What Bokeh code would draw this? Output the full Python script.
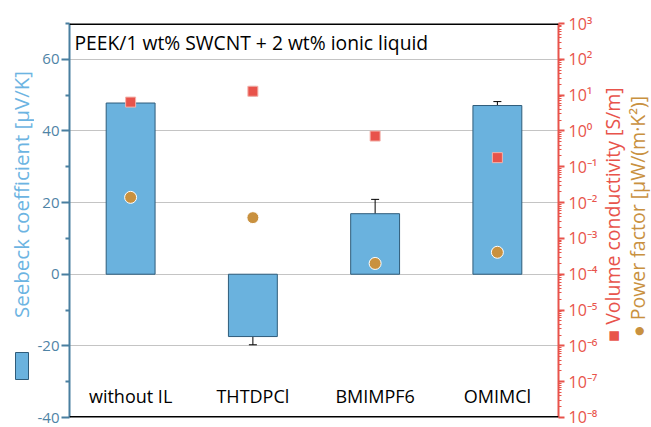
import math
from bokeh.plotting import figure
from bokeh.layouts import row
from bokeh.models import (Range1d, FactorRange, LogScale, LogAxis, FixedTicker,
                          ColumnDataSource, Whisker, TeeHead, Label, BoxAnnotation, Span)
from bokeh.embed import file_html
from bokeh.resources import INLINE
from bokeh.core.properties import value

# ---------------- data ----------------
categories = ["without IL", "THTDPCl", "BMIMPF6", "OMIMCl"]
seebeck = [47.8, -17.4, 16.9, 47.1]
seebeck_err = [0.0, 2.3, 4.0, 1.1]
conductivity = [6.4, 12.8, 0.72, 0.18]
conductivity_low = [6.4, 9.5, 0.54, 0.115]
conductivity_high = [6.4, 17.5, 0.96, 0.25]
power_factor = [0.014, 0.0038, 0.00020, 0.00041]
power_factor_low = [0.014, 0.0028, 0.000148, 0.00030]
power_factor_high = [0.014, 0.0051, 0.00027, 0.00041]
left_ticks = [-40, -20, 0, 20, 40, 60]
left_tick_labels = ["-40", "-20", "0", "20", "40", "60"]
left_minor_ticks = [-30, -10, 10, 30, 50, 70]
right_exponents = list(range(-8, 4))
right_tick_labels = ["10⁻⁸", "10⁻⁷", "10⁻⁶", "10⁻⁵", "10⁻⁴", "10⁻³",
                     "10⁻²", "10⁻¹", "10⁰", "10¹", "10²", "10³"]
title_text = "PEEK/1 wt% SWCNT + 2 wt% ionic liquid"
left_title = "Seebeck coefficient [µV/K]"
right_title_1 = "■ Volume conductivity [S/m]"
right_title_2 = "● Power factor [µW/(m·K²)]"

FONT = "Open Sans"
BLUE_AXIS = "#497fa0"
BLUE_LABEL = "#6cb4e2"
BAR_FILL = "#6ab2de"
BAR_LINE = "#2f5c7a"
RED = "#e8534b"
TAN = "#c9913f"

H = 427
LEFT_W, RIGHT_W = 34, 51
MAIN_W = 651 - LEFT_W - RIGHT_W


def side_figure(w):
    f = figure(width=w, height=H, x_range=Range1d(0, w), y_range=Range1d(0, H),
               x_axis_location=None, y_axis_location=None,
               output_backend="svg", toolbar_location=None,
               min_border=0, min_border_left=0, min_border_right=0,
               min_border_top=0, min_border_bottom=0)
    f.outline_line_color = None
    f.xgrid.visible = False
    f.ygrid.visible = False
    f.border_fill_color = "white"
    return f


# ---------------- main figure ----------------
p = figure(width=MAIN_W, height=H, x_range=FactorRange(*categories),
           y_range=Range1d(-40, 70), x_axis_location=None,
           output_backend="svg", toolbar_location=None,
           min_border_left=68 - LEFT_W, min_border_right=600 - 558,
           min_border_top=23, min_border_bottom=10)
p.extra_y_ranges = {"log": Range1d(1e-8, 1e3)}
p.extra_y_scales = {"log": LogScale()}
p.outline_line_color = None
p.border_fill_color = "white"

# left axis
ya = p.yaxis[0]
ya.ticker = FixedTicker(ticks=left_ticks, minor_ticks=left_minor_ticks)
ya.major_label_overrides = {t: lab for t, lab in zip(left_ticks, left_tick_labels)}
ya.axis_line_color = BLUE_AXIS
ya.axis_line_width = 2
ya.major_tick_line_color = BLUE_AXIS
ya.major_tick_line_width = 2
ya.minor_tick_line_color = BLUE_AXIS
ya.minor_tick_line_width = 2
ya.major_tick_out = 8
ya.major_tick_in = 0
ya.minor_tick_out = 4
ya.minor_tick_in = 0
ya.major_label_text_color = "#4f84a6"
ya.major_label_text_font = FONT
ya.major_label_text_font_size = "15px"
ya.major_label_standoff = 2

p.ygrid.ticker = FixedTicker(ticks=left_ticks)
p.ygrid.grid_line_color = "#c4c4c4"
p.ygrid.grid_line_width = 1
p.xgrid.grid_line_color = None

# right log axis
ra = LogAxis(y_range_name="log",
             ticker=FixedTicker(ticks=[10.0 ** e for e in right_exponents],
                                minor_ticks=[m * 10.0 ** e for e in right_exponents[:-1] for m in range(2, 10)]),
             major_label_overrides={10.0 ** e: lab for e, lab in zip(right_exponents, right_tick_labels)})
ra.axis_line_color = RED
ra.axis_line_width = 2
ra.major_tick_line_color = RED
ra.major_tick_line_width = 2
ra.minor_tick_line_color = RED
ra.minor_tick_line_width = 1
ra.major_tick_out = 6
ra.major_tick_in = 0
ra.minor_tick_out = 3
ra.minor_tick_in = 0
ra.major_label_text_color = RED
ra.major_label_text_font = FONT
ra.major_label_text_font_size = "16px"
ra.major_label_standoff = 4
p.add_layout(ra, "right")

# frame top / bottom lines
p.add_layout(Span(location=70, dimension="width", line_color="black", line_width=3))
p.add_layout(Span(location=-40, dimension="width", line_color="black", line_width=3))

# bars
bar_src = ColumnDataSource(dict(cat=categories, s=seebeck))
p.vbar(x="cat", top="s", bottom=0, width=0.4, source=bar_src,
       fill_color=BAR_FILL, line_color=BAR_LINE, line_width=1)

# markers
mk_src = ColumnDataSource(dict(cat=categories, cond=conductivity, pf=power_factor))
p.scatter(x="cat", y="cond", source=mk_src, y_range_name="log", marker="square",
          size=10, fill_color=RED, line_color="#f4b3ac", line_width=1)
p.scatter(x="cat", y="pf", source=mk_src, y_range_name="log", marker="circle",
          size=12, fill_color=TAN, line_color="white", line_width=1)

# error bars
ei = [i for i in range(len(categories)) if seebeck_err[i] > 0]
eb_src = ColumnDataSource(dict(cat=[categories[i] for i in ei],
                               up=[seebeck[i] + seebeck_err[i] for i in ei],
                               lo=[seebeck[i] - seebeck_err[i] for i in ei]))
p.add_layout(Whisker(base="cat", upper="up", lower="lo", source=eb_src,
                     line_color="black", line_width=1,
                     upper_head=TeeHead(size=8, line_color="black", line_width=1),
                     lower_head=TeeHead(size=8, line_color="black", line_width=1)))

ci = [i for i in range(len(categories)) if conductivity_high[i] != conductivity_low[i]]
ce_src = ColumnDataSource(dict(cat=[categories[i] for i in ci],
                               up=[conductivity_high[i] for i in ci],
                               lo=[conductivity_low[i] for i in ci]))
p.add_layout(Whisker(base="cat", upper="up", lower="lo", source=ce_src, y_range_name="log",
                     line_color="#7a7a7a", line_width=1,
                     upper_head=TeeHead(size=7, line_color="#7a7a7a", line_width=1),
                     lower_head=TeeHead(size=7, line_color="#7a7a7a", line_width=1)))

pi_ = [i for i in range(len(categories)) if power_factor_high[i] != power_factor_low[i]]
pe_src = ColumnDataSource(dict(cat=[categories[i] for i in pi_],
                               up=[power_factor_high[i] for i in pi_],
                               lo=[power_factor_low[i] for i in pi_]))
p.add_layout(Whisker(base="cat", upper="up", lower="lo", source=pe_src, y_range_name="log",
                     line_color="white", line_width=1.5,
                     upper_head=TeeHead(size=8, line_color="white", line_width=1.5),
                     lower_head=TeeHead(size=8, line_color="white", line_width=1.5)))

# category labels inside the plot
p.text(x="cat", y=-34, text="cat", source=ColumnDataSource(dict(cat=categories)),
       text_align="center", text_baseline="middle", text_color="black",
       text_font=value(FONT), text_font_size="18px")

# title inside
p.add_layout(Label(x=5, y=375, x_units="screen", y_units="screen", text=title_text,
                   text_font=FONT, text_font_size="19.3px", text_color="black",
                   text_align="left", text_baseline="middle"))

# ---------------- left strip: axis title + swatch ----------------
lf = side_figure(LEFT_W)
lf.add_layout(Label(x=20.5, y=H - 204, x_units="screen", y_units="screen", text=left_title,
                    angle=math.pi / 2, text_font=FONT, text_font_size="20.5px",
                    text_color=BLUE_LABEL, text_align="center", text_baseline="middle"))
lf.add_layout(BoxAnnotation(left=15, right=28, bottom=H - 389, top=H - 362,
                            left_units="screen", right_units="screen",
                            bottom_units="screen", top_units="screen",
                            fill_color=BAR_FILL, fill_alpha=1.0,
                            line_color=BAR_LINE, line_width=1, line_alpha=1.0))

# ---------------- right strip: two axis titles ----------------
rf = side_figure(RIGHT_W)
rf.add_layout(Label(x=612 - 600, y=H - 224, x_units="screen", y_units="screen", text=right_title_1,
                    angle=math.pi / 2, text_font=FONT, text_font_size="19.5px",
                    text_color=RED, text_align="center", text_baseline="middle"))
rf.add_layout(Label(x=637 - 600, y=H - 226, x_units="screen", y_units="screen", text=right_title_2,
                    angle=math.pi / 2, text_font=FONT, text_font_size="19.5px",
                    text_color=TAN, text_align="center", text_baseline="middle"))

layout = row(lf, p, rf, spacing=0)
open("out.html", "w").write(file_html(layout, INLINE))
